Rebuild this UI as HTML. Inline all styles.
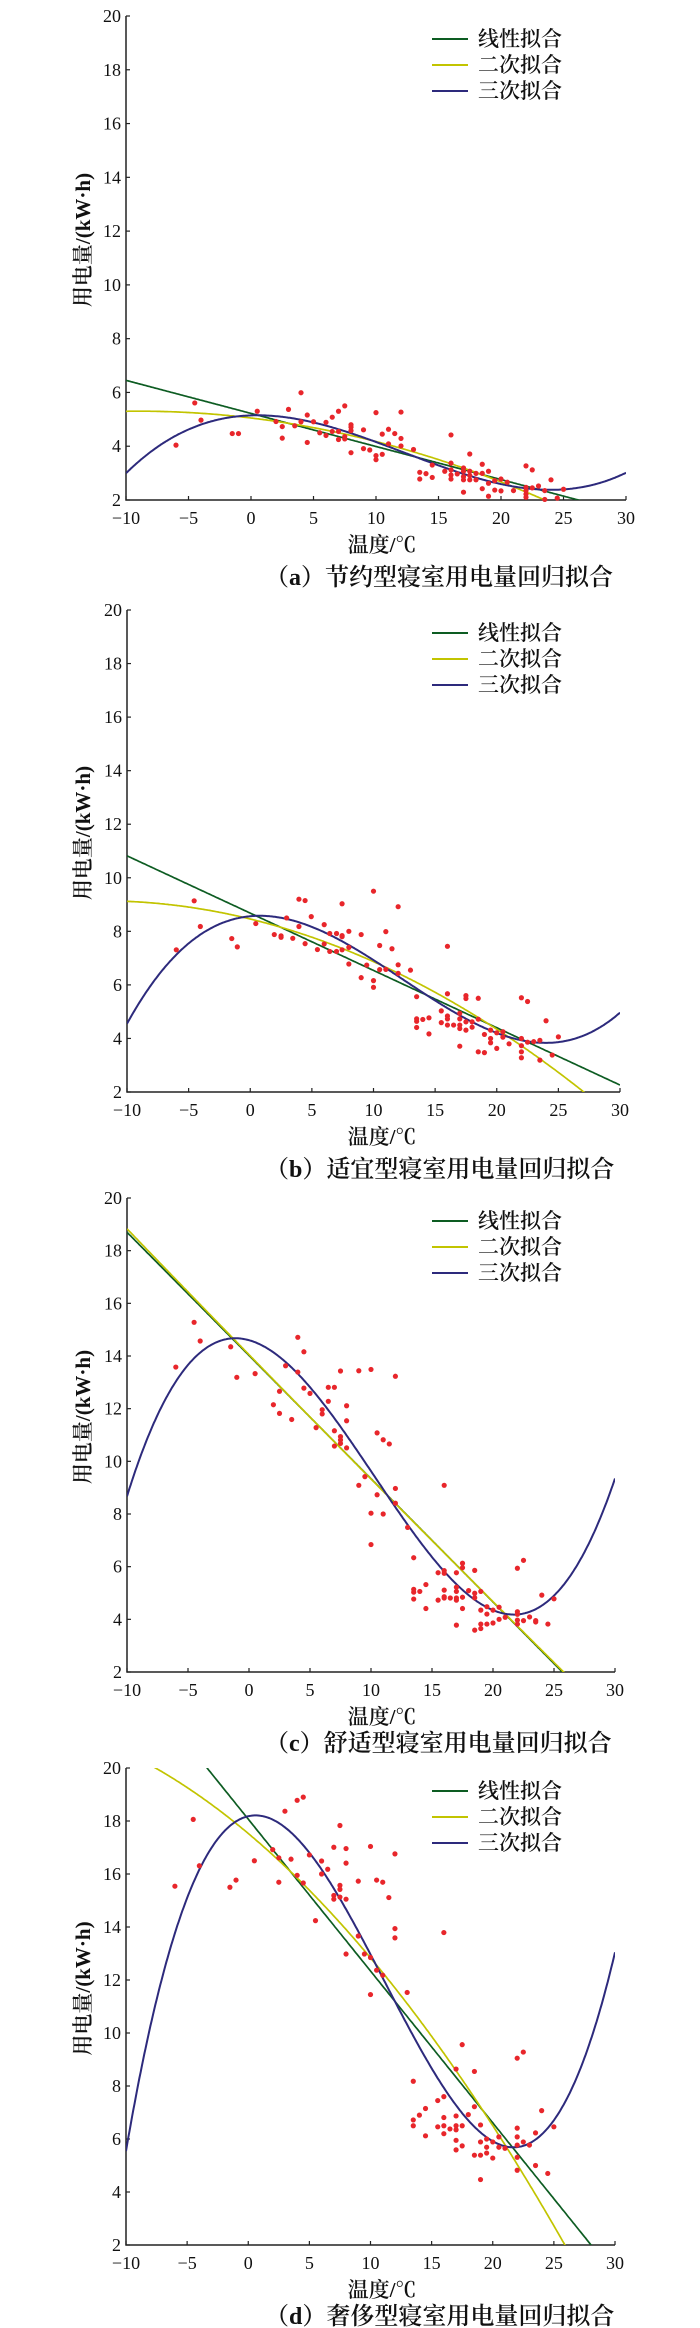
<!DOCTYPE html>
<html><head><meta charset="utf-8">
<style>
html,body{margin:0;padding:0;background:#fff;}
svg{display:block;}
text{font-family:"Liberation Serif","Noto Serif CJK SC","Noto Sans CJK SC",serif;fill:#111;}
.cjk{font-family:"Liberation Serif","Noto Serif CJK SC",serif;font-weight:600;}
</style></head>
<body>
<svg id="fig" width="700" height="2328" viewBox="0 0 700 2328" xmlns="http://www.w3.org/2000/svg"></svg>
<script>
// ---- data ----
const xTicks = [-10,-5,0,5,10,15,20,25,30];
const yTicks = [2,4,6,8,10,12,14,16,18,20];
const legendLabels = ["线性拟合","二次拟合","三次拟合"];
const captions = ["（a）节约型寝室用电量回归拟合","（b）适宜型寝室用电量回归拟合","（c）舒适型寝室用电量回归拟合","（d）奢侈型寝室用电量回归拟合"];

const aX = [-6,-4.5,-4,-1.5,-1,0.5,2,2.5,2.5,3,3.5,4,4,4.5,4.5,5,5.5,6,6,6.5,6.5,7,7,7,7.5,7.5,7.5,8,8,8,8,9,9,9.5,10,10,10,10.5,10.5,11,11,11.5,12,12,12,13,13.5,13.5,14,14.5,14.5,15.5,16,16,16,16,16,16.5,17,17,17,17,17,17.5,17.5,17.5,17.5,18,18,18.5,18.5,18.5,19,19,19,19.5,19.5,20,20,20.5,21,22,22,22,22,22,22.5,22.5,23,23.5,24,23.5,24.5,25];
const aY = [4.04,5.61,4.97,4.47,4.47,5.3,4.92,4.73,4.3,5.37,4.76,5.99,4.91,5.16,4.14,4.91,4.5,4.89,4.4,5.08,4.55,5.3,4.55,4.25,5.5,4.36,4.27,4.8,4.71,4.58,3.76,4.61,3.91,3.86,5.25,3.65,3.5,4.45,3.7,4.63,4.09,4.47,5.27,4.29,4.01,3.88,3.03,2.78,2.98,3.3,2.84,3.07,4.42,3.37,3.12,2.93,2.78,2.97,3.19,3.07,2.87,2.75,2.29,3.71,3.07,2.91,2.75,2.99,2.75,3.33,2.99,2.42,3.07,2.62,2.14,2.72,2.37,2.78,2.34,2.66,2.35,3.27,2.47,2.35,2.22,2.1,3.12,2.45,2.52,2.35,2.75,2.02,2.07,2.4];

const bX = [-6,-4.55,-4.05,-1.5,-1.05,0.45,1.95,2.5,2.5,2.95,3.45,3.95,4.45,3.95,4.45,4.95,5.45,6,6,6.45,6.45,7,7,7.45,7.45,7.45,7.45,8,8,8,9,9,9.45,10,10,10,10.5,10.5,11,11,11.5,12,12,12,13,13.5,13.5,13.5,13.5,14,14.5,14.5,15.5,15.5,16,16,16,16,16,16.5,17,17,17,17,17,17.5,17.5,17.5,17.5,18,18,18.5,18.5,18.5,19,19,19.5,19.5,19.5,20,20,20.5,20.5,21,22,22,22,22,22,22.5,22.5,23,23.5,23.5,24,24.5,25];
const bY = [7.31,9.14,8.18,7.73,7.42,8.29,7.88,7.83,7.78,8.5,7.74,9.2,9.15,8.18,7.54,8.55,7.32,8.25,7.53,7.92,7.25,7.92,7.25,7.84,7.8,9.03,7.31,8,7.4,6.78,7.88,6.27,6.74,9.5,6.16,5.91,7.47,6.57,7.99,6.58,7.35,8.92,6.75,6.43,6.55,5.56,4.73,4.64,4.41,4.71,4.77,4.17,5.03,4.59,7.44,5.67,4.84,4.73,4.5,4.5,4.94,4.73,4.5,4.37,3.71,5.6,5.49,4.62,4.31,4.62,4.42,5.5,4.72,3.5,4.15,3.47,4.31,4,3.84,4.21,3.63,4.25,4.05,3.8,5.52,4,3.73,3.5,3.28,5.38,3.86,3.88,3.93,3.19,4.66,3.38,4.06];

const cX = [-6,-4.5,-4,-1.5,-1,0.5,2,2.5,2.5,3,3.5,4,4,4.5,4.5,5,5.5,6,6,6.5,6.5,7,7,7,7.5,7.5,7.5,7.5,8,8,8,9,9,9.5,10,10,10,10.5,10.5,11,11,11.5,12,12,12,13,13.5,13.5,13.5,13.5,14,14.5,14.5,15.5,15.5,16,16,16,16,16,16,16.5,17,17,17,17,17,17,17.5,17.5,17.5,17.5,18,18.5,18.5,18.5,18.5,19,19,19,19,19.5,19.5,19.5,20,20,20.5,20.5,21,22,22,22,22,22,22.5,22.5,23,23.5,23.5,24,24.5,25];
const cY = [13.58,15.28,14.57,14.35,13.19,13.33,12.15,12.66,11.82,13.63,11.59,14.71,13.39,14.16,12.78,12.58,11.28,11.96,11.8,12.81,12.28,12.81,11.16,10.58,13.43,10.94,10.81,10.68,12.11,11.54,10.51,13.44,9.09,9.42,13.49,8.03,6.84,11.08,8.73,10.82,8,10.66,13.23,8.97,8.41,7.49,6.34,5.14,5.03,4.77,5.06,5.32,4.41,5.77,4.73,9.09,5.85,5.75,5.11,4.86,4.81,4.81,5.77,5.22,5.06,4.81,4.73,3.78,6.13,5.96,4.84,4.41,5.09,5.86,4.99,4.82,3.59,5.06,4.35,3.82,3.65,4.48,4.2,3.82,4.35,3.86,4.46,4,4.08,5.94,4.29,4.19,3.97,3.82,6.24,3.95,4.09,3.95,3.9,4.92,3.82,4.78];

const dX = [-6,-4.5,-4,-1.5,-1,0.5,2,2.5,2.5,3,3.5,4,4,4.5,4.5,5,5.5,6,6,6.5,7,7,7,7.5,7.5,7.5,7.5,8,8,8,8,9,9,9.5,10,10,10,10.5,10.5,11,11,11.5,12,12,12,13,13.5,13.5,13.5,14,14.5,14.5,15.5,15.5,16,16,16,16,16,16.5,17,17,17,17,17,17,17.5,17.5,17.5,18,18.5,18.5,18.5,19,19,19,19,19.5,19.5,19.5,20,20,20.5,20.5,21,22,22,22,22,22,22,22.5,22.5,23,23.5,23.5,24,24.5,25];
const dY = [15.54,18.06,16.31,15.5,15.77,16.5,16.92,16.61,15.69,18.37,16.56,18.78,15.95,18.9,15.66,16.72,14.24,16.49,16,16.18,17.01,15.19,15.05,17.83,15.57,15.42,15.13,16.96,16.41,15.05,12.98,15.73,13.66,12.98,17.04,12.85,11.45,15.77,12.37,15.69,12.18,15.11,16.76,13.94,13.59,11.53,8.18,6.72,6.5,6.9,7.15,6.12,7.45,6.46,13.79,7.6,6.81,6.5,6.2,6.38,8.64,6.87,6.5,6.35,5.95,5.59,9.56,6.5,5.74,6.92,8.55,7.22,5.39,6.53,5.89,5.39,4.47,6,5.69,5.47,5.89,5.28,6.08,5.69,5.65,9.05,6.41,6.08,5.77,5.31,4.82,9.28,5.89,5.77,6.23,5,7.07,4.7,6.46];

// fit coefficients (ascending powers)
const linA = [5.22,-0.123],  quadA = [5.05,-0.0563,-0.00313],  cubA = [5.146,0.015372,-0.015692,0.000427];
const linB = [8.68,-0.214],  quadB = [8.46,-0.1126,-0.00466],  cubB = [8.564,0.042688,-0.028253,0.000761];
const linC = [14.02,-0.468], quadC = [14.05,-0.475,0.0003],    cubC = [14.6,-0.128693,-0.054496,0.001765];
const linD = [18.07,-0.573], quadD = [17.53,-0.3877,-0.00818], cubD = [18.18,0.104184,-0.089249,0.002669];

const panelXs = [aX,bX,cX,dX];
const panelYs = [aY,bY,cY,dY];
const panelFits = [[linA,quadA,cubA],[linB,quadB,cubB],[linC,quadC,cubC],[linD,quadD,cubD]];
const panelKeys = ["a","b","c","d"];

// ---- layout (pixels) ----
const geom = [
  {L:126,R:626,T:16,B:500,cap:76},
  {L:127,R:620,T:610,B:1092,cap:76},
  {L:127,R:615,T:1198,B:1672,cap:70},
  {L:126,R:615,T:1768,B:2245,cap:70}
];
const fitColors = ["#0d5c22","#c2c400","#2d2a7c"];

const NS = "http://www.w3.org/2000/svg";
const svg = document.getElementById("fig");
function mk(tag, attrs, parent){
  const e = document.createElementNS(NS, tag);
  for (const k in attrs) e.setAttribute(k, attrs[k]);
  (parent||svg).appendChild(e);
  return e;
}
function poly(c, x){ let v=0; for(let i=c.length-1;i>=0;i--) v=v*x+c[i]; return v; }

geom.forEach((g, p) => {
  const key = panelKeys[p];
  const grp = mk("g", {});
  
  
  const sx = x => g.L + (x + 10) / 40 * (g.R - g.L);
  const sy = y => g.B - (y - 2) / 18 * (g.B - g.T);

  const clip = mk("clipPath", {id:"clip"+key}, grp);
  mk("rect", {x:g.L, y:g.T, width:g.R-g.L, height:g.B-g.T}, clip);

  const axes = mk("path", {d:`M${g.L},${g.T} V${g.B} H${g.R}`, fill:"none", stroke:"#222", "stroke-width":1.5}, grp);
  
  

  yTicks.forEach(t => {
    const y = sy(t);
    mk("line", {x1:g.L, x2:g.L+4, y1:y, y2:y, stroke:"#222", "stroke-width":1.2}, grp);
    const tx = mk("text", {x:g.L-5, y:y+6, "text-anchor":"end", "font-size":18}, grp);
    tx.textContent = t;
    
    
  });
  xTicks.forEach(t => {
    const x = sx(t);
    mk("line", {x1:x, x2:x, y1:g.B, y2:g.B-4, stroke:"#222", "stroke-width":1.2}, grp);
    const tx = mk("text", {x:x, y:g.B+24, "text-anchor":"middle", "font-size":18}, grp);
    tx.textContent = t < 0 ? "\u2212" + Math.abs(t) : t;
    
    
  });

  const cg = mk("g", {"clip-path":`url(#clip${key})`}, grp);
  panelFits[p].forEach((coef, i) => {
    let d = "";
    for (let k = 0; k <= 400; k++) {
      const x = -10 + k * 0.1;
      let y = poly(coef, x);
      y = Math.max(-2, Math.min(24, y));
      d += (k ? "L" : "M") + sx(x).toFixed(1) + "," + sy(y).toFixed(1);
    }
    const path = mk("path", {d:d, fill:"none", stroke:fitColors[i], "stroke-width": i===2 ? 2 : 1.7}, cg);
    
    
  });

  const xs = panelXs[p], ys = panelYs[p];
  xs.forEach((x, i) => {
    const c = mk("circle", {cx:sx(x), cy:sy(ys[i]), r:2.6, fill:"#e8262b"}, grp);
    
    
  });

  legendLabels.forEach((lab, i) => {
    const y = g.T + 23 + i * 26;
    const ln = mk("line", {x1:432, x2:468, y1:y, y2:y, stroke:fitColors[i], "stroke-width":2}, grp);
    
    
    const tx = mk("text", {x:478, y:y+7, "font-size":21, "class":"cjk"}, grp);
    tx.textContent = lab;
    
    
  });

  const cy = (g.T + g.B) / 2 - 18;
  const yt = mk("text", {x:0, y:0, "font-size":21, "text-anchor":"middle", "class":"cjk", transform:`translate(90,${cy}) rotate(-90)`}, grp);
  yt.textContent = "用电量/(kW·h)";
  
  

  const xt = mk("text", {x:382, y:g.B+52, "font-size":21, "text-anchor":"middle", "class":"cjk"}, grp);
  xt.textContent = "温度/℃";
  
  

  const cap = mk("text", {x:265, y:g.B+g.cap+9, "font-size":24, "class":"cjk"}, grp);
  cap.textContent = captions[p];
  
  
});
</script>
</body></html>
